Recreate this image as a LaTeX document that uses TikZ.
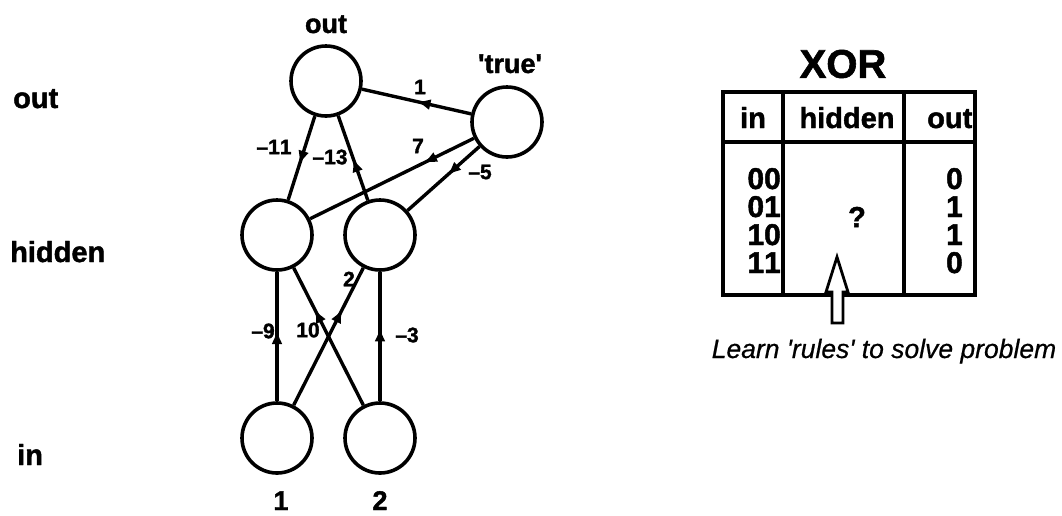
\documentclass[tikz,border=0pt]{standalone}
\usepackage{fontspec}
\setmainfont{Liberation Sans}
\newfontfamily\heavy{Liberation Sans Bold}[FakeBold=1.5,Kerning=Off]
\newfontfamily\slant{Liberation Sans Italic}[FakeBold=0.6]
\usetikzlibrary{arrows.meta,decorations.markings}

\tikzset{
  unit/.style={circle,draw,line width=3.6pt,minimum size=70pt,inner sep=0pt},
  link/.style={line width=3.4pt},
  midtip/.style={postaction={decorate,decoration={markings,
      mark=at position #1 with {\arrow{Latex[length=14pt,width=11pt]}}}}},
  rowlab/.style={font=\fontsize{29}{29}\selectfont\heavy,anchor=base west,inner sep=0pt},
  wlab/.style={font=\fontsize{21}{21}\selectfont\heavy,inner sep=0pt},
  toplab/.style={font=\fontsize{27}{27}\selectfont\heavy,anchor=base,inner sep=0pt},
  cell/.style={font=\fontsize{29}{29}\selectfont\heavy,inner sep=0pt},
  digit/.style={font=\fontsize{30}{28}\selectfont\heavy,inner sep=0pt,anchor=base east},
  grid/.style={line width=3.4pt}
}

\begin{document}
\begin{tikzpicture}[x=1pt,y=-1pt]
\useasboundingbox (0,0) rectangle (1062,515);

% layer names
\node[rowlab] (lout) at (13,108) {out};
\node[rowlab] (lhid) at (10,262) {hidden};
\node[rowlab] (lin)  at (17,465) {in};

% units
\node[unit] (out)  at (326,81)  {};
\node[unit] (tru)  at (507,122) {};
\node[unit] (h1)   at (277,235) {};
\node[unit] (h2)   at (380,235) {};
\node[unit] (in1)  at (277,438) {};
\node[unit] (in2)  at (380,438) {};

\node[toplab] (tout)  at (326,33)  {out};
\node[toplab] (ttrue) at (510,73)  {'true'};
\node[toplab] (t1)    at (281,510) {1};
\node[toplab] (t2)    at (380,510) {2};

% weighted connections
\draw[link,midtip=0.58] (out) -- (h1);
\draw[link,midtip=0.5]  (h2) -- (out);
\draw[link,midtip=0.5]  (tru) -- (out);
\draw[link,midtip=0.31] (tru) -- (h1);
\draw[link,midtip=0.45] (tru) -- (h2);
\draw[link,midtip=0.55] (in1) -- (h1);
\draw[link,midtip=0.57] (in2) -- (h2);
\draw[link,midtip=0.70] (in1) -- (h2);
\draw[link,midtip=0.70] (in2) -- (h1);

% weights
\node[wlab] (w1)   at (420,87)  {1};
\node[wlab] (w11)  at (274,147) {–11};
\node[wlab] (w13)  at (330,157) {–13};
\node[wlab] (w7)   at (418,146) {7};
\node[wlab] (w5)   at (480,172) {–5};
\node[wlab] (w9)   at (263,331) {–9};
\node[wlab] (w10)  at (308,330) {10};
\node[wlab] (w2)   at (349,279) {2};
\node[wlab] (w3)   at (407,335) {–3};

% XOR table
\node[font=\fontsize{40}{40}\selectfont\heavy,inner sep=0pt] (xor) at (843,64) {XOR};
\coordinate (tl) at (723,92);
\coordinate (br) at (975,295);
\begin{scope}
  \clip (tl) rectangle (br);
  \node[cell,anchor=base west] (hout) at (927,128) {out};
\end{scope}
\node[cell,anchor=base] (hin)  at (753,128) {in};
\node[cell,anchor=base] (hhid) at (847,128) {hidden};
\draw[grid] (tl) rectangle (br);
\draw[line width=4.5pt] (723,142) -- (975,142);
\draw[grid] (783,92) -- (783,295);
\draw[grid] (904,92) -- (904,295);

% truth table rows
\node[digit] (r1) at (781,189) {00};
\node[digit] (r2) at (781,217) {01};
\node[digit] (r3) at (781,245) {10};
\node[digit] (r4) at (781,273) {11};
\node[digit] (o1) at (963,189) {0};
\node[digit] (o2) at (963,217) {1};
\node[digit] (o3) at (963,245) {1};
\node[digit] (o4) at (963,273) {0};
\node[cell] (q) at (857,217) {?};

% hollow pointer into the hidden column
\draw[line width=2.8pt,fill=white,line join=miter]
  (837,257) -- (848,292) -- (843,292) -- (843,323) -- (832,323) -- (832,292) -- (826,292) -- cycle;

\node[font=\fontsize{26.5}{26.5}\selectfont\slant,anchor=base,inner sep=0pt] (learn) at (884,358)
  {Learn 'rules' to solve problem};
\end{tikzpicture}
\end{document}
